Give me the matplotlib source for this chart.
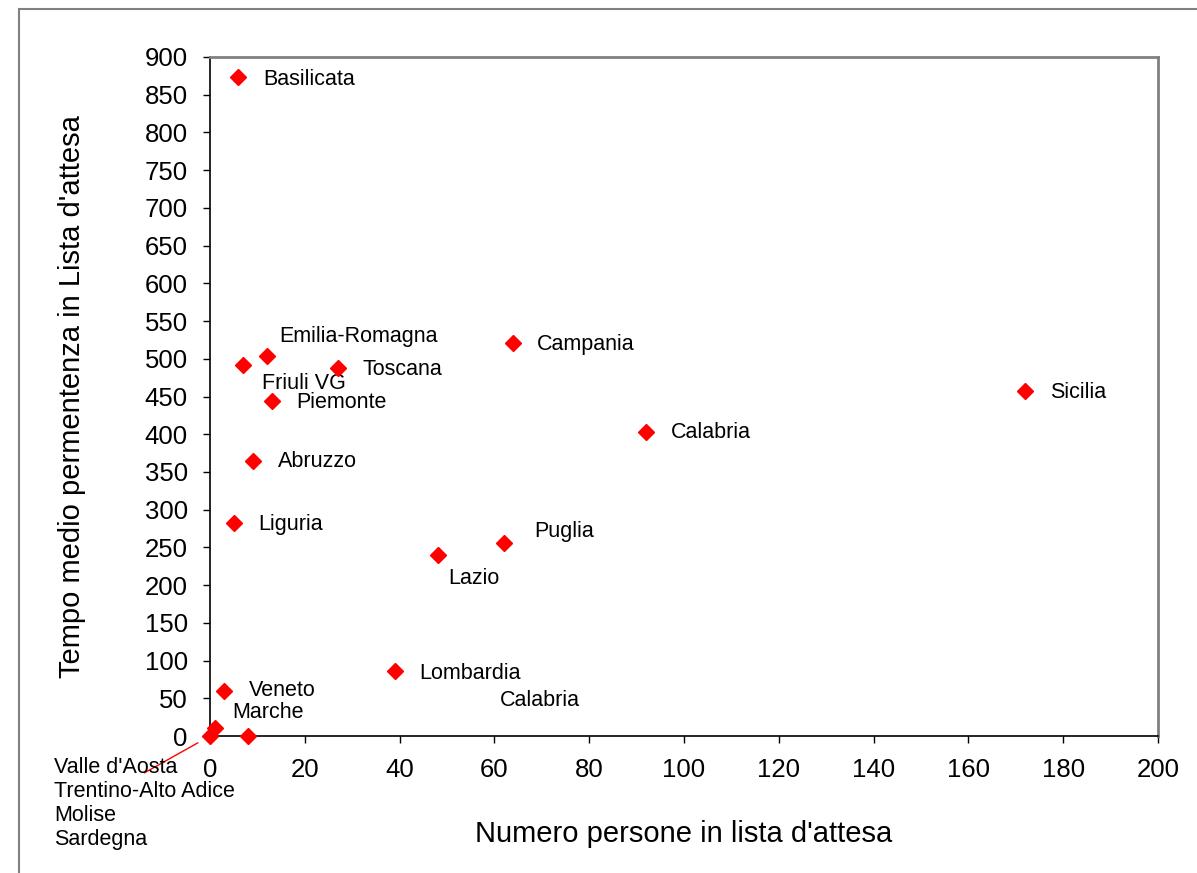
import numpy as np
import matplotlib.pyplot as plt
from matplotlib.patches import Rectangle

plt.rcParams['font.family'] = ['Liberation Sans', 'DejaVu Sans']

# --- Dati per regione ---
regioni = ["Basilicata", "Emilia-Romagna", "Friuli VG", "Toscana", "Piemonte",
           "Abruzzo", "Liguria", "Campania", "Calabria", "Sicilia", "Lazio",
           "Puglia", "Lombardia", "Veneto", "Marche", "Sardegna",
           "Valle d'Aosta\nTrentino-Alto Adice\nMolise\nSardegna"]
persone = [6, 12, 7, 27, 13, 9, 5, 64, 92, 172, 48, 62, 39, 3, 1, 8, 0]
tempo = [873, 504, 492, 488, 444, 365, 282, 521, 403, 457, 240, 256, 86, 60, 11, 0, 0]

# spostamento delle etichette rispetto al punto (pixel)
offset_etichette = [(25, -2), (12, 19), (19, -19), (25, -2), (25, -1),
                    (25, -1), (25, -1), (24, -2), (25, -1), (25, -1),
                    (11, -24), (30, 11), (24, -2), (25, 0), (18, 15),
                    None, (-156, -21)]

fig = plt.figure(figsize=(11.97, 8.73), dpi=100)
ax = fig.add_axes([210 / 1197, 137 / 873, 948 / 1197, 679 / 873])

# cornice esterna del grafico
fig.patches.append(Rectangle((19 / 1197, -0.2), 2.0, 1.2 - 9 / 873,
                             transform=fig.transFigure, fill=False,
                             edgecolor='#808080', linewidth=1.5))

ax.plot(persone, tempo, 'D', color='red', markersize=8.5, clip_on=False,
        zorder=5, linestyle='none')

for nome, x, y, off in zip(regioni, persone, tempo, offset_etichette):
    if off is None:
        continue
    if "\n" in nome:
        ax.annotate(nome, xy=(x, y), xytext=off, textcoords='offset pixels',
                    ha='left', va='top', fontsize=15.5, linespacing=1.19,
                    annotation_clip=False,
                    arrowprops=dict(arrowstyle='-', color='red', lw=1,
                                    patchA=None, relpos=(0.5, 0.83),
                                    shrinkA=0, shrinkB=10))
    else:
        ax.annotate(nome, xy=(x, y), xytext=off, textcoords='offset pixels',
                    ha='left', va='center', fontsize=15.5, annotation_clip=False)

# etichetta isolata senza punto
ax.text(61.2, 47.5, "Calabria", ha='left', va='center', fontsize=15.5)

ax.set_xlim(0, 200)
ax.set_ylim(0, 900)
ax.set_xticks(np.arange(0, 201, 20))
ax.set_yticks(np.arange(0, 901, 50))
ax.tick_params(direction='out', length=5, width=1, labelsize=18.5, pad=11)

for lato in ['left', 'bottom']:
    ax.spines[lato].set_color('black')
    ax.spines[lato].set_linewidth(1.2)
for lato in ['top', 'right']:
    ax.spines[lato].set_color('#808080')
    ax.spines[lato].set_linewidth(2)

ax.set_xlabel("Numero persone in lista d'attesa", fontsize=21)
ax.set_ylabel("Tempo medio permentenza in Lista d'attesa", fontsize=21)
ax.xaxis.set_label_coords(0.5, -0.123)
ax.yaxis.set_label_coords(-0.131, 0.5)

fig.savefig("out.png", dpi=100)
